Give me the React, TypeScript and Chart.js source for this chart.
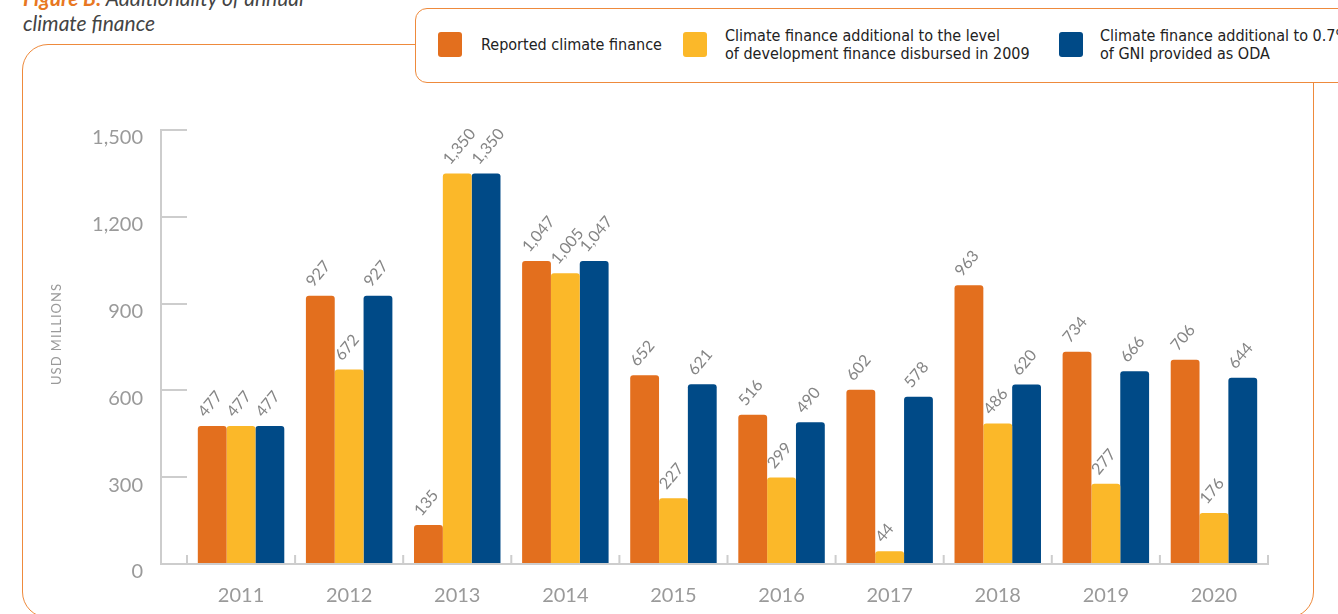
import React, { useEffect, useRef } from "react";
import { Chart, registerables } from "chart.js";

Chart.register(...registerables);

const years = ["2011", "2012", "2013", "2014", "2015", "2016", "2017", "2018", "2019", "2020"];
const reported = [477, 927, 135, 1047, 652, 516, 602, 963, 734, 706];
const additionalDev2009 = [477, 672, 1350, 1005, 227, 299, 44, 486, 277, 176];
const additionalOda = [477, 927, 1350, 1047, 621, 490, 578, 620, 666, 644];
const yTickValues = [0, 300, 600, 900, 1200, 1500];
const seriesLabels = [
  ["Reported climate finance"],
  ["Climate finance additional to the level", "of development finance disbursed in 2009"],
  ["Climate finance additional to 0.7%", "of GNI provided as ODA"],
];
const seriesColors = ["#E36F1E", "#FBB829", "#004A87"];
const yAxisTitle = "USD MILLIONS";

const fmt = (v: number) => v.toLocaleString("en-US");
const FONT = "Lato, 'Open Sans', sans-serif";
const AXIS_GRAY = "#cdcdcd";
const TICK_GAP = 26;

const axesPlugin = {
  id: "customAxes",
  beforeDatasetsDraw(chart: any) {
    const { ctx, chartArea } = chart;
    const x0 = chartArea.left - TICK_GAP;
    ctx.save();
    ctx.strokeStyle = AXIS_GRAY;
    ctx.lineWidth = 2;
    ctx.beginPath();
    ctx.moveTo(x0, chartArea.top - 1);
    ctx.lineTo(x0, chartArea.bottom);
    ctx.lineTo(chartArea.right + 1, chartArea.bottom);
    ctx.stroke();
    const n = years.length;
    const w = (chartArea.right - chartArea.left) / n;
    ctx.beginPath();
    for (let i = 0; i <= n; i++) {
      const x = chartArea.left + i * w;
      ctx.moveTo(x, chartArea.bottom - 9);
      ctx.lineTo(x, chartArea.bottom);
    }
    ctx.stroke();
    // y axis title
    ctx.translate(57, 334);
    ctx.rotate(-Math.PI / 2);
    ctx.fillStyle = "#9a9a9a";
    ctx.font = `13px ${FONT}`;
    ctx.textAlign = "center";
    ctx.textBaseline = "middle";
    (ctx as any).letterSpacing = "1px";
    ctx.fillText(yAxisTitle, 0, 0);
    ctx.restore();
  },
};

const labelPlugin = {
  id: "rotLabels",
  afterDatasetsDraw(chart: any) {
    const { ctx } = chart;
    ctx.save();
    ctx.fillStyle = "#858585";
    ctx.font = `16px ${FONT}`;
    ctx.textAlign = "left";
    ctx.textBaseline = "alphabetic";
    chart.data.datasets.forEach((ds: any, i: number) => {
      const meta = chart.getDatasetMeta(i);
      meta.data.forEach((bar: any, j: number) => {
        ctx.save();
        ctx.translate(bar.x - 7, bar.y - 8);
        ctx.rotate((-50 * Math.PI) / 180);
        ctx.fillText(fmt(ds.data[j]), 0, 0);
        ctx.restore();
      });
    });
    ctx.restore();
  },
};

function ChartCanvas() {
  const ref = useRef<HTMLCanvasElement | null>(null);
  useEffect(() => {
    if (!ref.current) return;
    const data = [reported, additionalDev2009, additionalOda];
    const chart = new Chart(ref.current, {
      type: "bar",
      data: {
        labels: years,
        datasets: data.map((d, i) => ({
          label: seriesLabels[i].join(" "),
          data: d,
          backgroundColor: seriesColors[i],
          borderRadius: { topLeft: 3, topRight: 3, bottomLeft: 0, bottomRight: 0 },
          borderSkipped: "bottom" as any,
          barPercentage: 1,
          categoryPercentage: 0.8,
        })),
      },
      options: {
        responsive: false,
        animation: false,
        layout: { padding: { left: 0, top: 130, right: 70, bottom: 0 } },
        plugins: { legend: { display: false }, tooltip: { enabled: false } },
        scales: {
          x: {
            grid: { display: false, drawTicks: false },
            border: { display: false },
            afterFit: (scale: any) => {
              scale.height = 50;
            },
            ticks: { font: { family: FONT, size: 20 }, color: "#9a9a9a", padding: 20 },
          },
          y: {
            min: 0,
            max: 1500,
            afterBuildTicks: (scale: any) => {
              scale.ticks = yTickValues.map((v) => ({ value: v }));
            },
            afterFit: (scale: any) => {
              scale.width = 187;
            },
            grid: {
              drawOnChartArea: false,
              drawTicks: true,
              tickLength: TICK_GAP,
              color: AXIS_GRAY,
              lineWidth: 2,
            },
            border: { display: false },
            ticks: {
              font: { family: FONT, size: 20 },
              color: "#9a9a9a",
              padding: 18,
              labelOffset: 8,
              callback: (v: any) => fmt(Number(v)),
            },
          },
        },
      },
      plugins: [axesPlugin, labelPlugin],
    });
    return () => chart.destroy();
  }, []);
  return (
    <canvas
      ref={ref}
      width={1338}
      height={614}
      style={{ position: "absolute", left: 0, top: 0, width: 1338, height: 614 }}
    />
  );
}

const ORANGE_LINE = "#EE8A3C";
const legendPos = [
  { sw: 438, tx: 481 },
  { sw: 683, tx: 725 },
  { sw: 1059, tx: 1100 },
];

export default function App() {
  return (
    <div
      style={{
        position: "absolute",
        left: 0,
        top: 0,
        width: 1338,
        height: 614,
        overflow: "hidden",
        background: "#fff",
      }}
    >
      <div
        style={{
          position: "absolute",
          left: 23,
          top: -15,
          fontFamily: FONT,
          fontSize: 21,
          lineHeight: "25px",
          fontStyle: "italic",
          color: "#444",
          whiteSpace: "nowrap",
        }}
      >
        <span style={{ color: "#E87722", fontWeight: 700 }}>Figure B:</span> Additionality of annual
        <br />
        climate finance
      </div>
      <div
        style={{
          position: "absolute",
          left: 22,
          top: 44,
          width: 1292,
          height: 574,
          boxSizing: "border-box",
          border: `1.5px solid ${ORANGE_LINE}`,
          borderRadius: 26,
        }}
      />
      <ChartCanvas />
      <div
        style={{
          position: "absolute",
          left: 415,
          top: 8,
          width: 980,
          height: 75,
          boxSizing: "border-box",
          border: `1.5px solid ${ORANGE_LINE}`,
          borderRadius: 12,
          background: "#fff",
        }}
      />
      {seriesLabels.map((lines, i) => (
        <React.Fragment key={i}>
          <div
            style={{
              position: "absolute",
              left: legendPos[i].sw,
              top: 32,
              width: 24,
              height: 25,
              borderRadius: 3,
              background: seriesColors[i],
            }}
          />
          <div
            style={{
              position: "absolute",
              left: legendPos[i].tx,
              top: 45 - lines.length * 9,
              fontFamily: "'DejaVu Sans Condensed', 'Liberation Sans Narrow', sans-serif",
              fontStretch: "condensed",
              fontSize: 16,
              lineHeight: "18px",
              color: "#222",
              whiteSpace: "nowrap",
            }}
          >
            {lines.map((l, k) => (
              <div key={k}>{l}</div>
            ))}
          </div>
        </React.Fragment>
      ))}
    </div>
  );
}
